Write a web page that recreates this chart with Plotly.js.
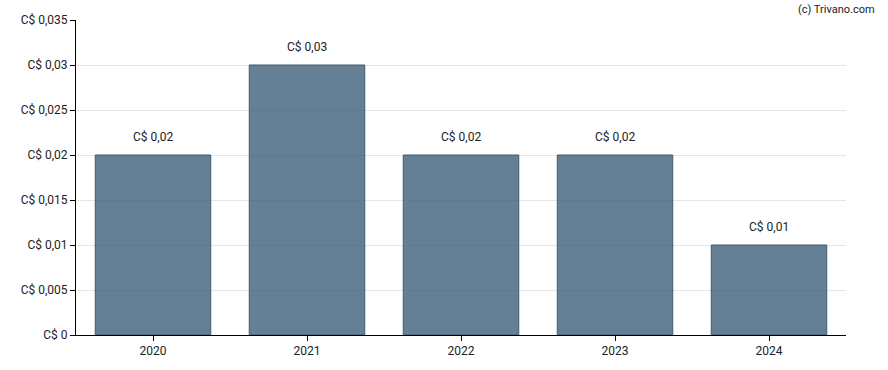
<!DOCTYPE html>
<html><head><meta charset="utf-8">
<script src="https://cdn.plot.ly/plotly-3.0.1.min.js"></script>
<style>body{margin:0;padding:0;background:#fff}#c{width:888px;height:370px}</style>
</head><body><div id="c"></div>
<script>
const years = ['2020','2021','2022','2023','2024'];
const dividends = [0.02, 0.03, 0.02, 0.02, 0.01];
const barLabels = dividends.map(v => 'C$ ' + String(v).replace('.', ','));

const labelAnns = years.map((yr, i) => ({
  x: i, y: dividends[i], xref: 'x', yref: 'y', text: barLabels[i],
  showarrow: false, yanchor: 'bottom', yshift: 9,
  font: {family: 'Roboto, sans-serif', size: 12, color: '#222'}
}));

Plotly.newPlot('c', [{
  type: 'bar', x: years, y: dividends,
  marker: {color: 'rgba(58,92,118,0.78)', line: {color: '#3f5a70', width: 1}},
  hoverinfo: 'none'
}], {
  width: 888, height: 370,
  margin: {l: 76, r: 42, t: 20, b: 35},
  bargap: 0.25,
  separators: ',.',
  paper_bgcolor: '#fff', plot_bgcolor: '#fff',
  font: {family: 'Roboto, sans-serif', size: 12, color: '#222'},
  showlegend: false,
  xaxis: {type: 'category', range: [-0.5, years.length - 0.5],
    showline: true, linecolor: '#000', linewidth: 1,
    ticks: 'outside', ticklen: 5, tickcolor: '#000', showgrid: false,
    tickfont: {size: 12, color: '#222'}},
  yaxis: {range: [0, 0.035], dtick: 0.005, tick0: 0, tickprefix: 'C$ ',
    showline: true, linecolor: '#000', linewidth: 1,
    ticks: 'outside', ticklen: 5, tickcolor: '#000',
    gridcolor: '#e6e6e6', gridwidth: 1, zeroline: false,
    tickfont: {size: 12, color: '#222'}},
  annotations: labelAnns.concat([{text: '(c) Trivano.com', xref: 'paper', yref: 'paper',
    x: 1.04, y: 1.0, xanchor: 'right', yanchor: 'bottom', yshift: 2, showarrow: false,
    font: {size: 11, color: '#222'}}])
}, {displayModeBar: false, staticPlot: true});
</script></body></html>
